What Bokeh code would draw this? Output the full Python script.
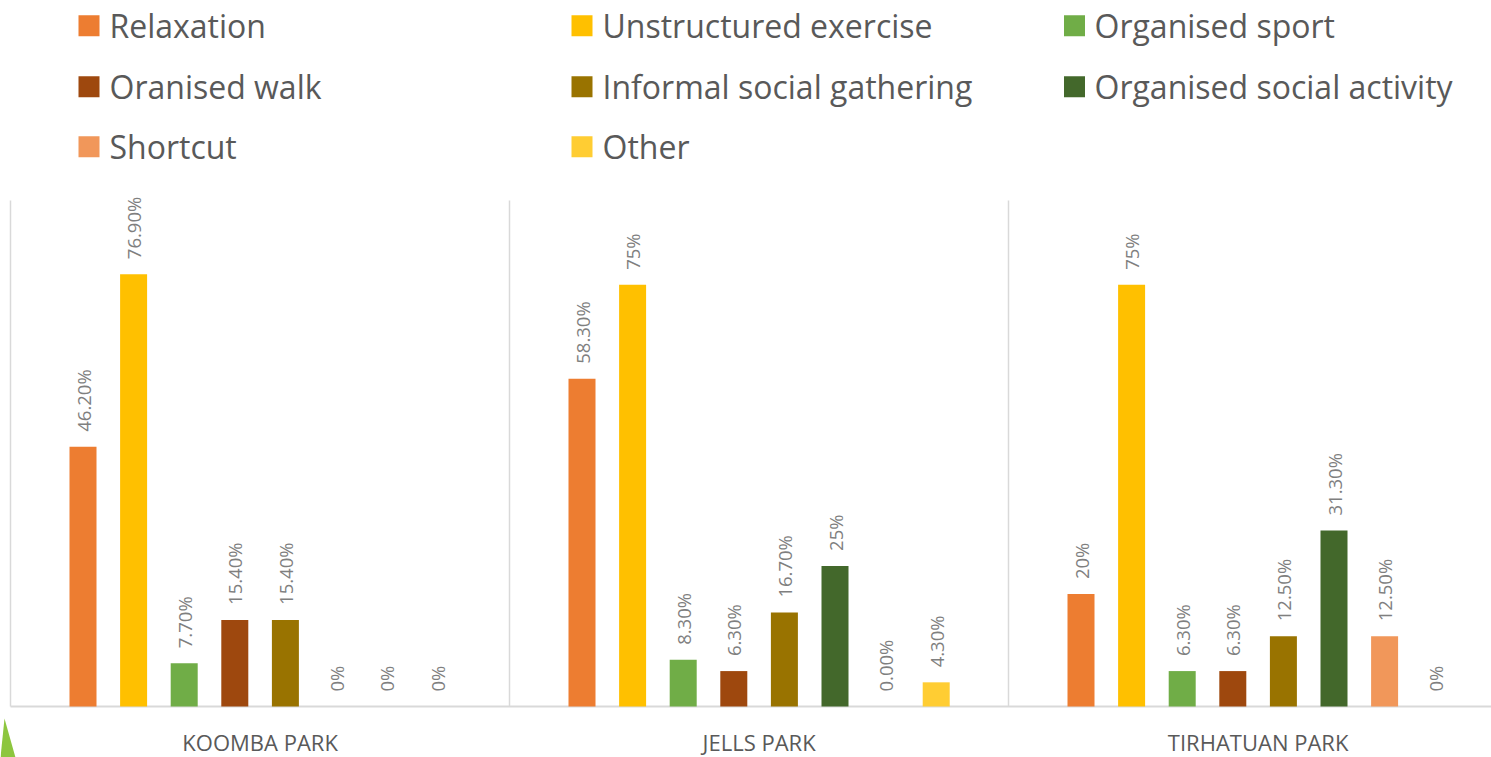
import math
from bokeh.plotting import figure
from bokeh.models import Range1d, ColumnDataSource
from bokeh.core.properties import value
from bokeh.embed import file_html
from bokeh.resources import INLINE

# ---------------- data ----------------
parks = ["KOOMBA PARK", "JELLS PARK", "TIRHATUAN PARK"]
activities = ["Relaxation", "Unstructured exercise", "Organised sport", "Oranised walk",
              "Informal social gathering", "Organised social activity", "Shortcut", "Other"]
colors = ["#ED7D31", "#FFC000", "#70AD47", "#9E480E", "#997300", "#43682B", "#F1975A", "#FFCD33"]

koomba = [46.2, 76.9, 7.7, 15.4, 15.4, 0, 0, 0]
jells = [58.3, 75, 8.3, 6.3, 16.7, 25, 0, 4.3]
tirhatuan = [20, 75, 6.3, 6.3, 12.5, 31.3, 12.5, 0]

koomba_labels = ["46.20%", "76.90%", "7.70%", "15.40%", "15.40%", "0%", "0%", "0%"]
jells_labels = ["58.30%", "75%", "8.30%", "6.30%", "16.70%", "25%", "0.00%", "4.30%"]
tirhatuan_labels = ["20%", "75%", "6.30%", "6.30%", "12.50%", "31.30%", "12.50%", "0%"]

y_max = 90

# ---------------- layout (page pixels) ----------------
W, H = 1491, 757
PAGE = 0
SLOT = 50.6          # px between neighbouring bars
GROUP = 499.0        # px per park group
FIRST = 82.5         # page x of first bar centre
BASE = 706.0         # page y of value 0
TOP = 200.0          # page y of y_max
PXV = (BASE - TOP) / y_max
BAR_W = 27.0

def ux(px):
    return (px - FIRST) / SLOT

def vy(py):
    return (BASE - py) / PXV

GU = GROUP / SLOT

p = figure(width=W, height=H, output_backend="svg", toolbar_location=None,
           x_range=Range1d(ux(PAGE), ux(PAGE + W)),
           y_range=Range1d(vy(PAGE + H), vy(PAGE)),
           x_axis_location=None, y_axis_location=None,
           min_border=0, outline_line_color=None)
p.xgrid.visible = False
p.ygrid.visible = False
p.background_fill_color = "white"
p.border_fill_color = "white"

FONT = value("Open Sans")
GRID = "#d9d9d9"

# separators and baseline
sep_x = [g * GU + ux(10) for g in range(4)]
p.segment(x0=sep_x[:3], y0=[0] * 3, x1=sep_x[:3], y1=[y_max] * 3,
          line_color=GRID, line_width=1.5)
p.segment(x0=[ux(10)], y0=[0], x1=[ux(PAGE + W)], y1=[0], line_color=GRID, line_width=2)

# bars and labels
all_vals = [koomba, jells, tirhatuan]
all_labels = [koomba_labels, jells_labels, tirhatuan_labels]
xs, tops, cols, labs = [], [], [], []
for g, (vals, labels) in enumerate(zip(all_vals, all_labels)):
    for i, v in enumerate(vals):
        xs.append(g * GU + i)
        tops.append(v)
        cols.append(colors[i])
        labs.append(labels[i])
src = ColumnDataSource(dict(x=xs, top=tops, color=cols, label=labs))
p.vbar(x="x", top="top", bottom=0, width=BAR_W / SLOT, source=src,
       fill_color="color", line_color=None)
p.text(x="x", y="top", text="label", source=src, angle=math.pi / 2,
       text_align="left", text_baseline="middle", y_offset=-15,
       text_font=FONT, text_font_size="18.5px", text_color="#7F7F7F")

# category labels
p.text(x=[g * GU + 3.5 for g in range(3)], y=[vy(741)] * 3, text=parks,
       text_align="center", text_baseline="middle",
       text_font=FONT, text_font_size="22px", text_color="#595959")

# legend
col_marker = [88.5, 581.5, 1074.0]
col_text = [109.0, 602.0, 1094.0]
row_y = [25.3, 86.3, 146.3]
lx, ly, tx, lc, lt = [], [], [], [], []
for k, name in enumerate(activities):
    r, c = divmod(k, 3)
    lx.append(ux(col_marker[c]))
    ly.append(vy(row_y[r]))
    tx.append(ux(col_text[c]))
    lc.append(colors[k])
    lt.append(name)
p.scatter(x=lx, y=ly, marker="square", size=21, fill_color=lc, line_color=None)
p.text(x=tx, y=ly, text=lt, text_align="left", text_baseline="middle",
       text_font=FONT, text_font_size="32px", text_color="#595959")

# decorative green sliver bottom-left
p.patch(x=[ux(4), ux(0), ux(15)], y=[vy(718), vy(757), vy(757)],
        fill_color="#8DC63F", line_color=None)

open("out.html", "w").write(file_html(p, INLINE))
